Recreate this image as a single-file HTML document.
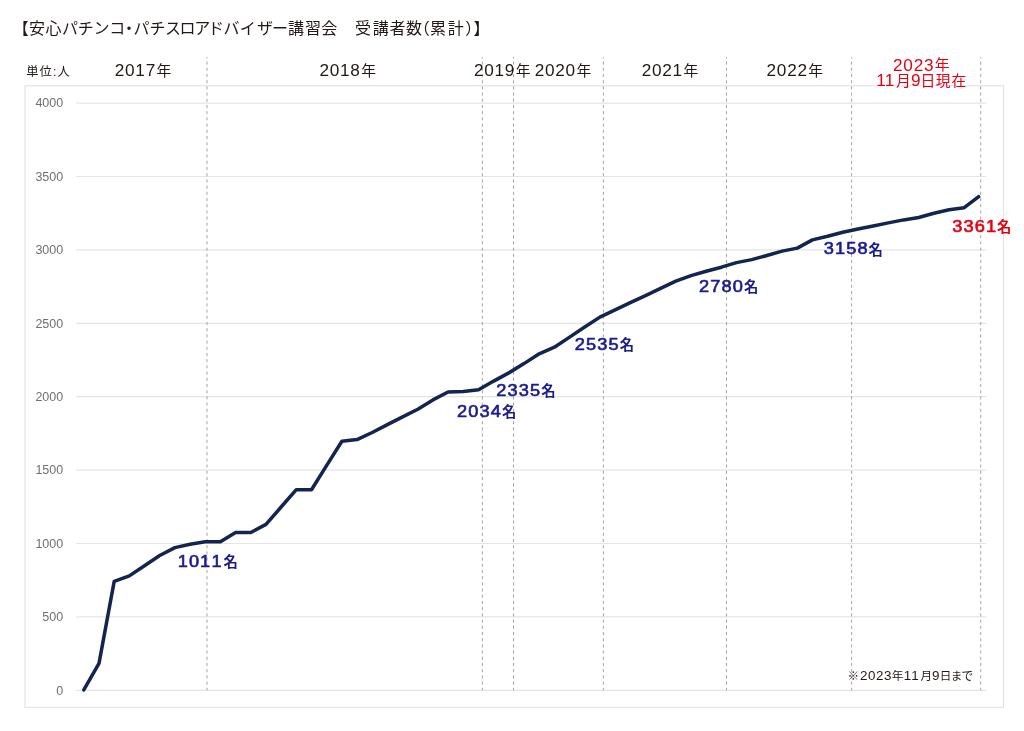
<!DOCTYPE html>
<html lang="ja"><head><meta charset="utf-8">
<title>安心パチンコ・パチスロアドバイザー講習会 受講者数（累計）</title>
<style>
html,body{margin:0;padding:0;background:#fff;}
body{width:1024px;height:731px;overflow:hidden;font-family:"Liberation Sans", "Noto Sans CJK JP", sans-serif;}
svg{display:block;}
text{font-family:"Liberation Sans", "Noto Sans CJK JP", sans-serif;}
.ttl{font-size:16px;fill:#231815;font-weight:400;}
.yr{font-size:14.8px;fill:#231815;font-weight:400;}
.yr .d{font-size:17.2px;}
.red{fill:#e60012;}
.unit{font-size:12.3px;fill:#231815;}
.ax{font-size:12.5px;fill:#707070;font-family:"Liberation Sans",sans-serif;}
.lb{font-size:14.4px;font-weight:700;color:#1b1b8e;fill:currentColor;stroke:none;}
.lb.dg{font-size:16.4px;font-weight:400;stroke:currentColor;stroke-width:0.62px;stroke-linejoin:round;}
.lb.red{color:#e60012;}
.note{font-size:11.6px;fill:#231815;}
.note .d{font-size:13.4px;}
</style></head><body>
<svg width="1024" height="731" viewBox="0 0 1024 731">
<rect x="0" y="0" width="1024" height="731" fill="#ffffff"/>
<rect x="25.00" y="85.80" width="978.50" height="621.50" fill="none" stroke="#e2e2e2" stroke-width="1.1"/>
<line x1="76.30" y1="690.30" x2="986.30" y2="690.30" stroke="#e4e4e4" stroke-width="1.2"/>
<line x1="76.30" y1="616.90" x2="986.30" y2="616.90" stroke="#e4e4e4" stroke-width="1.2"/>
<line x1="76.30" y1="543.50" x2="986.30" y2="543.50" stroke="#e4e4e4" stroke-width="1.2"/>
<line x1="76.30" y1="470.10" x2="986.30" y2="470.10" stroke="#e4e4e4" stroke-width="1.2"/>
<line x1="76.30" y1="396.70" x2="986.30" y2="396.70" stroke="#e4e4e4" stroke-width="1.2"/>
<line x1="76.30" y1="323.30" x2="986.30" y2="323.30" stroke="#e4e4e4" stroke-width="1.2"/>
<line x1="76.30" y1="249.90" x2="986.30" y2="249.90" stroke="#e4e4e4" stroke-width="1.2"/>
<line x1="76.30" y1="176.50" x2="986.30" y2="176.50" stroke="#e4e4e4" stroke-width="1.2"/>
<line x1="76.30" y1="103.10" x2="986.30" y2="103.10" stroke="#e4e4e4" stroke-width="1.2"/>
<line x1="207.00" y1="57.00" x2="207.00" y2="690.30" stroke="#8c8c8c" stroke-width="0.8" stroke-dasharray="3 3.2" stroke-dashoffset="1.6"/>
<line x1="482.40" y1="57.00" x2="482.40" y2="690.30" stroke="#8c8c8c" stroke-width="0.8" stroke-dasharray="3 3.2" stroke-dashoffset="1.6"/>
<line x1="513.50" y1="57.00" x2="513.50" y2="690.30" stroke="#8c8c8c" stroke-width="0.8" stroke-dasharray="3 3.2" stroke-dashoffset="1.6"/>
<line x1="603.40" y1="57.00" x2="603.40" y2="690.30" stroke="#8c8c8c" stroke-width="0.8" stroke-dasharray="3 3.2" stroke-dashoffset="1.6"/>
<line x1="726.50" y1="57.00" x2="726.50" y2="690.30" stroke="#8c8c8c" stroke-width="0.8" stroke-dasharray="3 3.2" stroke-dashoffset="1.6"/>
<line x1="851.60" y1="57.00" x2="851.60" y2="690.30" stroke="#8c8c8c" stroke-width="0.8" stroke-dasharray="3 3.2" stroke-dashoffset="1.6"/>
<line x1="980.70" y1="57.00" x2="980.70" y2="690.30" stroke="#8c8c8c" stroke-width="0.8" stroke-dasharray="3 3.2" stroke-dashoffset="1.6"/>
<text class="ax" x="63.2" y="694.60" text-anchor="end">0</text>
<text class="ax" x="63.2" y="621.20" text-anchor="end">500</text>
<text class="ax" x="63.2" y="547.80" text-anchor="end">1000</text>
<text class="ax" x="63.2" y="474.40" text-anchor="end">1500</text>
<text class="ax" x="63.2" y="401.00" text-anchor="end">2000</text>
<text class="ax" x="63.2" y="327.60" text-anchor="end">2500</text>
<text class="ax" x="63.2" y="254.20" text-anchor="end">3000</text>
<text class="ax" x="63.2" y="180.80" text-anchor="end">3500</text>
<text class="ax" x="63.2" y="107.40" text-anchor="end">4000</text>
<text class="ttl" transform="translate(0,34.10) scale(1,1.000)" x="12.7 29.1 45.4 62.0 77.8 93.4 109.3 121.0 133.4 149.5 165.1 179.5 194.2 208.1 223.4 239.7 257.0 272.0 288.1 305.0 321.3 337.3 355.1 372.8 389.6 406.1 413.8 430.0 447.7 465.2 473.4" y="0">【安心パチンコ・パチスロアドバイザー講習会　受講者数（累計）】</text>
<text class="unit" x="26.32 39.44 53.01 57.57" y="75.8">単位:人</text>
<text class="yr"><tspan class="d" x="114.74 125.04 135.34 145.64" y="76.20">2017</tspan><tspan x="156.54" y="75.70">年</tspan></text>
<text class="yr"><tspan class="d" x="319.44 329.74 340.04 350.34" y="76.20">2018</tspan><tspan x="361.24" y="75.70">年</tspan></text>
<text class="yr"><tspan class="d" x="473.94 484.24 494.54 504.84" y="76.20">2019</tspan><tspan x="515.74" y="75.70">年</tspan></text>
<text class="yr"><tspan class="d" x="534.64 544.94 555.24 565.54" y="76.20">2020</tspan><tspan x="576.44" y="75.70">年</tspan></text>
<text class="yr"><tspan class="d" x="641.64 651.94 662.24 672.54" y="76.20">2021</tspan><tspan x="683.44" y="75.70">年</tspan></text>
<text class="yr"><tspan class="d" x="766.54 776.84 787.14 797.44" y="76.20">2022</tspan><tspan x="808.34" y="75.70">年</tspan></text>
<text class="yr red"><tspan class="d" x="893.04 903.34 913.64 923.94" y="70.50">2023</tspan><tspan x="934.84" y="70.00">年</tspan></text>
<text class="yr red"><tspan class="d" x="876.23 884.83" y="86.30">11</tspan><tspan x="895.91" y="85.80">月</tspan><tspan class="d" x="911.03" y="86.30">9</tspan><tspan x="920.46 935.66 951.55" y="85.80">日現在</tspan></text>
<polyline fill="none" stroke="#13244f" stroke-width="3.5" stroke-linejoin="round" stroke-linecap="round" points="83.8,689.9 99.0,663.4 114.2,581.4 129.3,575.9 144.5,565.7 159.7,555.5 174.9,547.6 190.1,544.3 205.2,541.7 220.4,541.7 235.6,532.5 250.8,532.5 266.0,524.4 281.1,507.0 296.3,489.7 311.5,489.7 326.7,465.4 341.9,441.2 357.0,439.6 372.2,432.5 387.4,424.6 402.6,416.9 417.8,409.2 432.9,399.9 448.1,392.0 463.3,391.5 478.5,389.8 493.7,381.1 508.8,372.9 524.0,363.6 539.2,353.8 554.4,347.2 569.6,337.1 584.7,327.0 599.9,317.1 615.1,309.9 630.3,302.7 645.5,295.6 660.6,288.4 675.8,281.2 691.0,275.6 706.2,271.2 721.4,267.2 736.5,262.6 751.7,259.6 766.9,255.5 782.1,251.1 797.3,248.1 812.4,239.9 827.6,236.3 842.8,232.2 858.0,229.0 873.2,226.0 888.3,222.9 903.5,219.9 918.7,217.5 933.9,213.2 949.1,209.7 964.2,207.7 978.7,196.7"/>
<text class="lb dg" transform="translate(177.63,567.20) scale(1.110,1)" x="0.00 10.14 20.27 30.41" y="0">1011</text>
<text class="lb" x="223.43" y="567.45">名</text>
<text class="lb dg" transform="translate(456.99,416.70) scale(1.110,1)" x="0.00 10.14 20.27 30.41" y="0">2034</text>
<text class="lb" x="501.89" y="416.95">名</text>
<text class="lb dg" transform="translate(496.29,395.70) scale(1.110,1)" x="0.00 10.14 20.27 30.41" y="0">2335</text>
<text class="lb" x="541.19" y="395.95">名</text>
<text class="lb dg" transform="translate(574.79,349.50) scale(1.110,1)" x="0.00 10.14 20.27 30.41" y="0">2535</text>
<text class="lb" x="619.69" y="349.75">名</text>
<text class="lb dg" transform="translate(699.09,291.70) scale(1.110,1)" x="0.00 10.14 20.27 30.41" y="0">2780</text>
<text class="lb" x="743.99" y="291.95">名</text>
<text class="lb dg" transform="translate(823.67,254.30) scale(1.110,1)" x="0.00 10.14 20.27 30.41" y="0">3158</text>
<text class="lb" x="868.57" y="254.55">名</text>
<text class="lb red dg" transform="translate(952.17,232.20) scale(1.110,1)" x="0.00 10.14 20.27 30.41" y="0">3361</text>
<text class="lb red" x="997.07" y="232.45">名</text>
<text class="note"><tspan x="847.45" y="679.70">※</tspan><tspan class="d" x="859.93 867.93 875.93 883.93" y="680.00">2023</tspan><tspan x="891.82" y="679.70">年</tspan><tspan class="d" x="903.73 911.23" y="680.00">11</tspan><tspan x="920.42" y="679.70">月</tspan><tspan class="d" x="932.10" y="680.00">9</tspan><tspan x="939.77 950.79 961.57" y="679.70">日まで</tspan></text>
</svg>
</body></html>
